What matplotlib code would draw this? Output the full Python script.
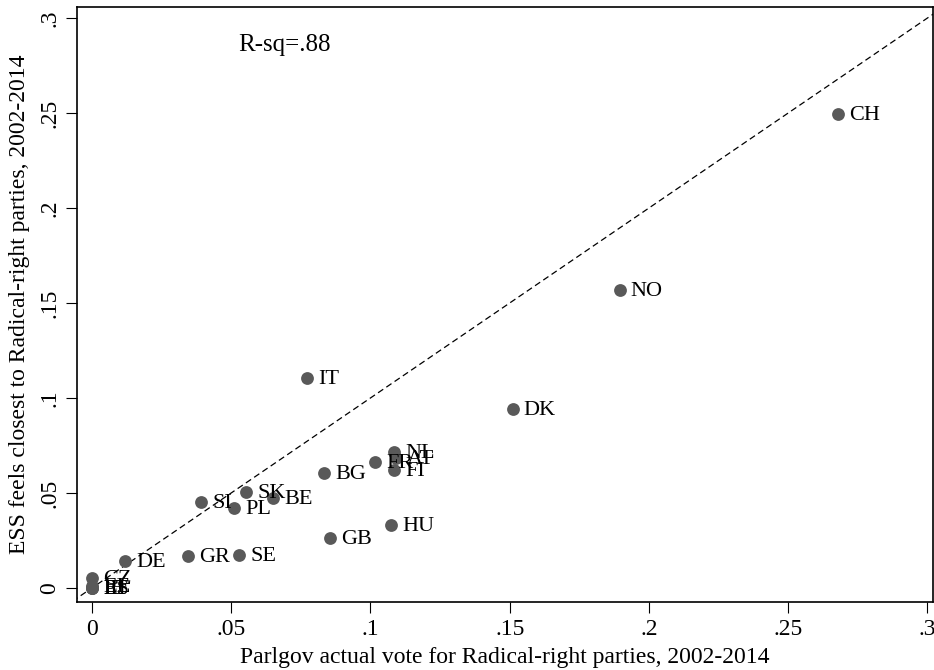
import numpy as np
import matplotlib.pyplot as plt

# Radical-right vote share: Parlgov actual vote vs ESS party closeness
countries = ['CH', 'NO', 'DK', 'IT', 'NL', 'AT', 'FR', 'FI', 'BG', 'HU', 'GB',
             'SK', 'BE', 'SI', 'PL', 'GR', 'SE', 'DE', 'CZ', 'EE', 'ES', 'IE', 'PT']
parlgov = [0.268, 0.1895, 0.151, 0.0772, 0.1084, 0.109, 0.1016, 0.1084, 0.0833,
           0.1073, 0.0854, 0.0553, 0.065, 0.0391, 0.051, 0.0345, 0.0528, 0.0118,
           0.0, 0.0, 0.0, 0.0, 0.0]
ess = [0.2495, 0.157, 0.094, 0.1105, 0.0716, 0.0684, 0.0663, 0.0621, 0.0605,
       0.0332, 0.0263, 0.0505, 0.0474, 0.0453, 0.0421, 0.0168, 0.0174, 0.0142,
       0.005, 0.001, 0.0, 0.0, 0.0]
rsq_text = 'R-sq=.88'

plt.rcParams['font.family'] = ['Liberation Serif', 'DejaVu Serif']

fig = plt.figure(figsize=(9.34, 6.7), dpi=100)
ax = fig.add_axes([0.0824, 0.1015, 0.9166, 0.8881])

ax.scatter(parlgov, ess, s=85, color='#595959', zorder=3, linewidths=0)
for c, x, y in zip(countries, parlgov, ess):
    ax.annotate(c, (x, y), xytext=(8, -1), textcoords='offset points',
                ha='left', va='center', fontsize=16, zorder=4)

# 45 degree reference line
ax.plot([-0.01, 0.31], [-0.01, 0.31], 'k--', lw=0.9, dashes=(5, 3), zorder=2)

ax.text(0.0524, 0.286, rsq_text, fontsize=18, ha='left', va='center')

ax.set_xlim(-0.0054, 0.302)
ax.set_ylim(-0.0074, 0.3058)

ticks = [0, 0.05, 0.1, 0.15, 0.2, 0.25, 0.3]
tick_labels = ['0', '.05', '.1', '.15', '.2', '.25', '.3']
ax.set_xticks(ticks)
ax.set_xticklabels(tick_labels)
ax.set_yticks(ticks)
ax.set_yticklabels(tick_labels, rotation=90, va='center')
ax.tick_params(direction='out', length=8, width=0.8, labelsize=17, pad=4)

ax.set_xlabel('Parlgov actual vote for Radical-right parties, 2002-2014', fontsize=17, labelpad=5)
ax.set_ylabel('ESS feels closest to Radical-right parties, 2002-2014', fontsize=17, labelpad=7)

for sp in ax.spines.values():
    sp.set_linewidth(1.2)

plt.savefig('out.png', dpi=100)
